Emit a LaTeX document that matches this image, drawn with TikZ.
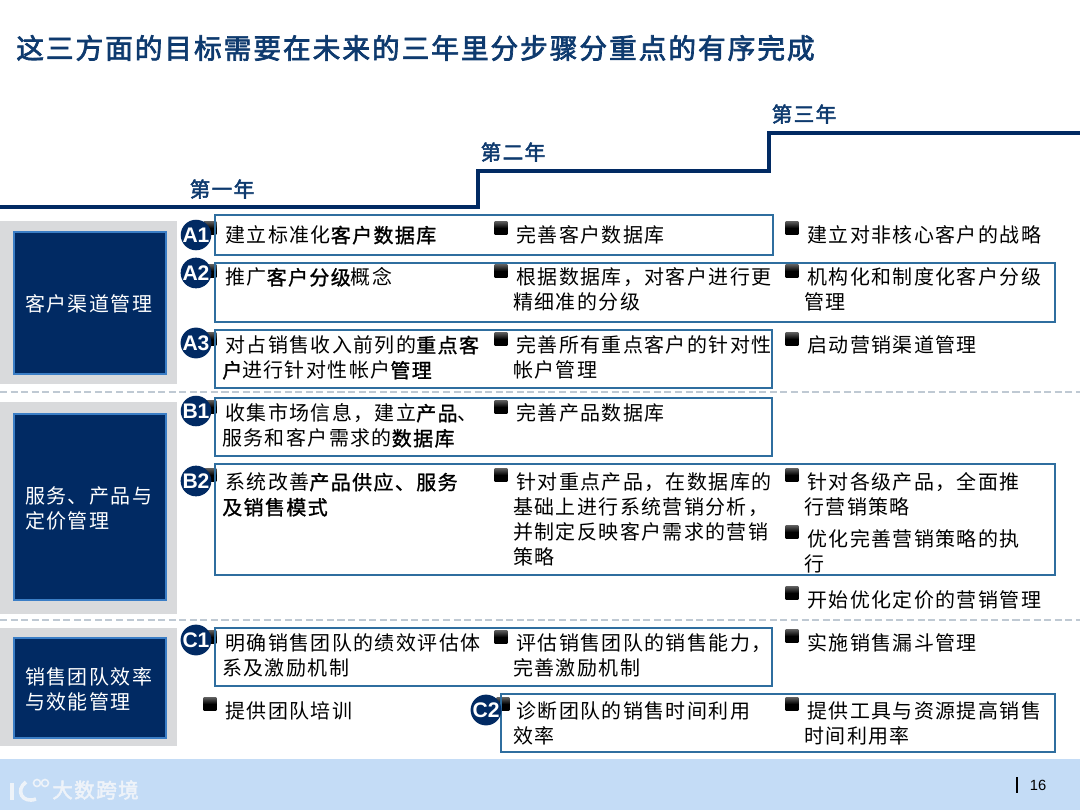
\documentclass[tikz,border=0pt]{standalone}
\usepackage{fontspec}
\setmainfont{Noto Sans CJK SC}[LetterSpace=7, BoldFont=*, BoldFeatures={FakeBold=1.2}]
\newfontfamily\latinfont{Liberation Sans}
\definecolor{navy}{HTML}{012A63}
\definecolor{titleblue}{HTML}{0E3A6E}
\definecolor{framered}{HTML}{2F6E9F}
\definecolor{panelgray}{HTML}{D9DADC}
\definecolor{dashgray}{HTML}{BFC9D3}
\definecolor{footblue}{HTML}{C4DCF6}
\definecolor{navyedge}{HTML}{3B7EC6}
\definecolor{markwhite}{HTML}{EEF3F9}
\newcommand{\kw}[1]{{\bfseries #1}}
\newcommand{\hd}{\hspace*{2.2pt}}
\newcommand{\heavy}{\addfontfeature{FakeBold=2.5}}
\tikzset{
  bodytext/.style={anchor=north west, inner sep=0pt, align=left, text=black,
    font=\fontsize{14.2}{17.85}\selectfont},
  yeartext/.style={inner sep=0pt, text=titleblue, font=\fontsize{14.6}{17}\selectfont\heavy},
  navybox/.style={draw=navyedge, fill=navy, line width=0.04cm},
  navytext/.style={anchor=west, inner sep=0pt, align=left, text=white,
    font=\fontsize{14.2}{17.85}\selectfont},
  itemframe/.style={draw=framered, line width=0.06cm},
  badge/.style={circle, fill=navy, inner sep=0pt, minimum size=0.76cm, text=white,
    font=\latinfont\fontsize{15}{15}\selectfont\bfseries},
  bullet/.style={rectangle, inner sep=0pt, minimum size=0.32cm, top color=black!65, bottom color=black, middle color=black},
  sepline/.style={draw=dashgray, line width=0.035cm, dashed, dash pattern=on 5pt off 2.5pt},
}
\begin{document}
\begin{tikzpicture}[x=0.025cm, y=-0.025cm]
    \useasboundingbox (0,0) rectangle (1080,810);

    % Coordinates
    \coordinate (S0) at (0,207);
    \coordinate (S1) at (478,207);
    \coordinate (S2) at (478,171);
    \coordinate (S3) at (769,171);
    \coordinate (S4) at (769,133);
    \coordinate (S5) at (1080,133);

    % Title and years
    \node[anchor=west, inner sep=0pt, text=titleblue, font=\fontsize{19.7}{22}\selectfont\heavy] (title) at (16,48) {这三方面的目标需要在未来的三年里分步骤分重点的有序完成};
    \draw[line width=0.085cm, draw=navy] (S0) -- (S1) -- (S2) -- (S3) -- (S4) -- (S5);
    \node[yeartext] (year1) at (222,189) {第一年};
    \node[yeartext] (year2) at (513,152) {第二年};
    \node[yeartext] (year3) at (804,114) {第三年};

    % Left panels
    \fill[panelgray] (0,221) rectangle (177,384);
    \fill[panelgray] (0,402) rectangle (177,614);
    \fill[panelgray] (0,628) rectangle (177,746);
    \draw[navybox] (14,232) rectangle (166,374);
    \draw[navybox] (14,414) rectangle (166,600);
    \draw[navybox] (14,638) rectangle (166,738);
    \node[navytext] (panelA) at (25,304) {客户渠道管理};
    \node[navytext] (panelB) at (25,508.5) {服务、产品与\\定价管理};
    \node[navytext] (panelC) at (25,689.5) {销售团队效率\\与效能管理};

    % Separators and footer
    \draw[sepline] (0,392) -- (1080,392);
    \draw[sepline] (0,620) -- (1080,620);
    \fill[footblue] (0,759) rectangle (1080,810);

    % Bullets
    \node[bullet] (b1) at (210,228) {};
    \node[bullet] (b2) at (501,228) {};
    \node[bullet] (b3) at (792,228) {};
    \node[bullet] (b4) at (210,271) {};
    \node[bullet] (b5) at (501,271) {};
    \node[bullet] (b6) at (792,271) {};
    \node[bullet] (b7) at (210,339) {};
    \node[bullet] (b8) at (501,339) {};
    \node[bullet] (b9) at (792,339) {};
    \node[bullet] (b10) at (210,407) {};
    \node[bullet] (b11) at (501,407) {};
    \node[bullet] (b12) at (210,475) {};
    \node[bullet] (b13) at (501,475) {};
    \node[bullet] (b14) at (792,475) {};
    \node[bullet] (b15) at (792,532) {};
    \node[bullet] (b16) at (792,593) {};
    \node[bullet] (b17) at (210,637) {};
    \node[bullet] (b18) at (501,637) {};
    \node[bullet] (b19) at (792,636) {};
    \node[bullet] (b20) at (210,704) {};
    \node[bullet] (b21) at (503,704) {};
    \node[bullet] (b22) at (792,704) {};

    % Frames
    \draw[itemframe] (215,215) rectangle (773,255);
    \draw[itemframe] (215,263) rectangle (1055,322);
    \draw[itemframe] (215,330) rectangle (772,388);
    \draw[itemframe] (215,398) rectangle (772,456);
    \draw[itemframe] (215,464) rectangle (1055,575);
    \draw[itemframe] (215,628) rectangle (772,686);
    \draw[itemframe] (501,694) rectangle (1055,752);

    % Badges
    \node[badge] (A1) at (196,235) {A1};
    \node[badge] (A2) at (196,273) {A2};
    \node[badge] (A3) at (196,343) {A3};
    \node[badge] (B1) at (196,411) {B1};
    \node[badge] (B2) at (196,481) {B2};
    \node[badge] (C1) at (196,640) {C1};
    \node[badge] (C2) at (486,710) {C2};

    % First year
    \node[bodytext] (t1) at (222,225.5) {\hd 建立标准化\kw{客户数据库}};
    \node[bodytext] (t2) at (222,267.5) {\hd 推广\kw{客户分级}概念};
    \node[bodytext] (t3) at (222,335.5) {\hd 对占销售收入前列的\kw{重点客}\\\kw{户}进行针对性帐户\kw{管理}};
    \node[bodytext] (t4) at (222,403.5) {\hd 收集市场信息，建立\kw{产品}、\\服务和客户需求的\kw{数据库}};
    \node[bodytext] (t5) at (222,472.5) {\hd 系统改善\kw{产品供应、服务}\\\kw{及销售模式}};
    \node[bodytext] (t6) at (222,633.5) {\hd 明确销售团队的绩效评估体\\系及激励机制};
    \node[bodytext] (t7) at (222,701.5) {\hd 提供团队培训};

    % Second year
    \node[bodytext] (t8) at (513,225.5) {\hd 完善客户数据库};
    \node[bodytext] (t9) at (513,267.5) {\hd 根据数据库，对客户进行更\\精细准的分级};
    \node[bodytext] (t10) at (513,335.5) {\hd 完善所有重点客户的针对性\\帐户管理};
    \node[bodytext] (t11) at (513,403.5) {\hd 完善产品数据库};
    \node[bodytext] (t12) at (513,472.5) {\hd 针对重点产品，在数据库的\\基础上进行系统营销分析，\\并制定反映客户需求的营销\\策略};
    \node[bodytext] (t13) at (513,633.5) {\hd 评估销售团队的销售能力，\\完善激励机制};
    \node[bodytext] (t14) at (513,701.5) {\hd 诊断团队的销售时间利用\\效率};

    % Third year
    \node[bodytext] (t15) at (804,225.5) {\hd 建立对非核心客户的战略};
    \node[bodytext] (t16) at (804,267.5) {\hd 机构化和制度化客户分级\\管理};
    \node[bodytext] (t17) at (804,335.5) {\hd 启动营销渠道管理};
    \node[bodytext] (t18) at (804,472.5) {\hd 针对各级产品，全面推\\行营销策略};
    \node[bodytext] (t19) at (804,529.5) {\hd 优化完善营销策略的执\\行};
    \node[bodytext] (t20) at (804,590.5) {\hd 开始优化定价的营销管理};
    \node[bodytext] (t21) at (804,633.5) {\hd 实施销售漏斗管理};
    \node[bodytext] (t22) at (804,701.5) {\hd 提供工具与资源提高销售\\时间利用率};

    % Footer marks
    \draw[markwhite, line width=0.09cm] (12,783) -- (12,800);
    \draw[markwhite, line width=0.09cm] (26,782) .. controls (15,790) and (22,804) .. (36,799);
    \draw[markwhite, line width=0.04cm] (37,783) circle (3.5);
    \draw[markwhite, line width=0.04cm] (45,783) circle (3.5);
    \node[anchor=west, inner sep=0pt, text=markwhite, font=\fontsize{14.6}{15}\selectfont\heavy] (mark) at (52,790) {大数跨境};
    \draw[black, line width=0.05cm] (1017,777) -- (1017,793);
    \node[inner sep=0pt, text=black, font=\latinfont\fontsize{10.5}{12}\selectfont] (page) at (1038,785) {16};
\end{tikzpicture}
\end{document}
